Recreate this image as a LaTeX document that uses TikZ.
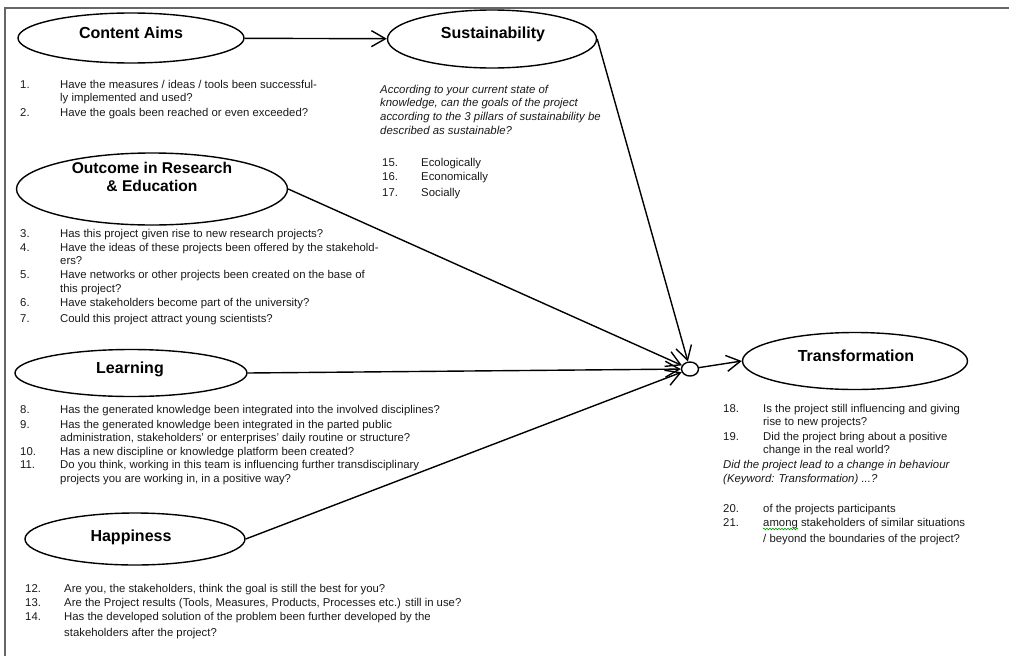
\documentclass[tikz,border=0pt]{standalone}
\usepackage{fontspec}
\setmainfont{Liberation Sans}
\usetikzlibrary{shapes.geometric,arrows.meta,decorations.pathmorphing}
\begin{document}
\begin{tikzpicture}[x=1pt,y=-1pt,
  oval/.style={draw,ellipse,line width=1.4pt,inner sep=0pt},
  lab/.style={font=\fontsize{16}{19}\selectfont\bfseries,inner sep=0pt,align=center},
  q/.style={font=\fontsize{11.35}{13}\selectfont,anchor=base west,inner sep=0pt,text=black!90},
  qi/.style={anchor=base west,inner sep=0pt,text=black!90,font=\fontsize{11.4}{13}\selectfont\itshape},
  conn/.style={line width=1.4pt},
  arr/.style={conn,-{Straight Barb[length=14pt,width=16pt,line width=1.4pt]}},
]
\useasboundingbox (0,0) rectangle (1009,656);
% frame
\draw[gray!80!black,line width=2pt] (5,656) -- (5,7.5) -- (1009,7.5);

% ellipses
\node[oval,minimum width=226pt,minimum height=50pt] (ca) at (131,38) {};
\node[oval,minimum width=209pt,minimum height=58pt] (sus) at (492,39) {};
\node[oval,minimum width=271pt,minimum height=72pt] (out) at (152,189) {};
\node[oval,minimum width=232pt,minimum height=47pt] (lrn) at (131,373) {};
\node[oval,minimum width=220pt,minimum height=52pt] (hap) at (135,539) {};
\node[oval,minimum width=225pt,minimum height=57pt] (tr) at (855,361) {};
\node[draw,ellipse,line width=1.4pt,minimum width=17pt,minimum height=14pt,inner sep=0pt] (jn) at (690,369) {};

% labels
\node[lab] (caL) at (131,33) {Content Aims};
\node[lab] (susL) at (493,34) {Sustainability};
\node[lab,font=\fontsize{15.6}{18.5}\selectfont\bfseries] (outL) at (152,177) {Outcome in Research\\\& Education};
\node[lab] (lrnL) at (130,369) {Learning};
\node[lab] (hapL) at (131,537) {Happiness};
\node[lab] (trL) at (856,356) {Transformation};

% connectors
\draw[arr] (ca) -- (sus);
\draw[arr] (sus.east) -- (jn);
\draw[arr] (out.east) -- (jn);
\draw[arr] (lrn.east) -- (jn);
\draw[arr] (hap.east) -- (jn);
\draw[arr] (jn) -- (tr.west);

% Content Aims questions
\node[q] (n1) at (20,88) {1.};
\node[q] (q1a) at (60,88) {Have the measures / ideas / tools been successful-};
\node[q] (q1b) at (60,101) {ly implemented and used?};
\node[q] (n2) at (20,116) {2.};
\node[q] (q2) at (60,116) {Have the goals been reached or even exceeded?};

% Sustainability
\node[qi] (s1) at (380,93) {According to your current state of};
\node[qi] (s2) at (380,106) {knowledge, can the goals of the project};
\node[qi] (s3) at (380,120) {according to the 3 pillars of sustainability be};
\node[qi] (s4) at (380,134) {described as sustainable?};
\node[q] (n15) at (382,166) {15.};
\node[q] (q15) at (421,166) {Ecologically};
\node[q] (n16) at (382,180) {16.};
\node[q] (q16) at (421,180) {Economically};
\node[q] (n17) at (382,196) {17.};
\node[q] (q17) at (421,196) {Socially};

% Outcome
\node[q] (n3) at (20,237) {3.};
\node[q] (q3) at (60,237) {Has this project given rise to new research projects?};
\node[q] (n4) at (20,251) {4.};
\node[q] (q4a) at (60,251) {Have the ideas of these projects been offered by the stakehold-};
\node[q] (q4b) at (60,264) {ers?};
\node[q] (n5) at (20,278) {5.};
\node[q] (q5a) at (60,278) {Have networks or other projects been created on the base of};
\node[q] (q5b) at (60,292) {this project?};
\node[q] (n6) at (20,306) {6.};
\node[q] (q6) at (60,306) {Have stakeholders become part of the university?};
\node[q] (n7) at (20,322) {7.};
\node[q] (q7) at (60,322) {Could this project attract young scientists?};

% Learning
\node[q] (n8) at (20,413) {8.};
\node[q] (q8) at (60,413) {Has the generated knowledge been integrated into the involved disciplines?};
\node[q] (n9) at (20,428) {9.};
\node[q] (q9a) at (60,428) {Has the generated knowledge been integrated in the parted public};
\node[q] (q9b) at (60,441) {administration, stakeholders' or enterprises' daily routine or structure?};
\node[q] (n10) at (20,455) {10.};
\node[q] (q10) at (60,455) {Has a new discipline or knowledge platform been created?};
\node[q] (n11) at (20,468) {11.};
\node[q] (q11a) at (60,468) {Do you think, working in this team is influencing further transdisciplinary};
\node[q] (q11b) at (60,482) {projects you are working in, in a positive way?};

% Happiness
\node[q] (n12) at (25,592) {12.};
\node[q] (q12) at (64,592) {Are you, the stakeholders, think the goal is still the best for you?};
\node[q] (n13) at (25,606) {13.};
\node[q] (q13) at (64,606) {Are the Project results (Tools, Measures, Products, Processes etc.) still in use?};
\node[q] (n14) at (25,620) {14.};
\node[q] (q14a) at (64,620) {Has the developed solution of the problem been further developed by the};
\node[q] (q14b) at (64,636) {stakeholders after the project?};

% Transformation
\node[q] (n18) at (723,412) {18.};
\node[q] (q18a) at (763,412) {Is the project still influencing and giving};
\node[q] (q18b) at (763,425) {rise to new projects?};
\node[q] (n19) at (723,440) {19.};
\node[q] (q19a) at (763,440) {Did the project bring about a positive};
\node[q] (q19b) at (763,453) {change in the real world?};
\node[qi] (ti1) at (723,468) {Did the project lead to a change in behaviour};
\node[qi] (ti2) at (723,482) {(Keyword: Transformation) ...?};
\node[q] (n20) at (723,512) {20.};
\node[q] (q20) at (763,512) {of the projects participants};
\node[q] (n21) at (723,526) {21.};
\node[q] (q21a) at (763,526) {among stakeholders of similar situations};
\node[q] (q21b) at (763,542) {/ beyond the boundaries of the project?};
\draw[green!60!black,line width=0.6pt,decorate,decoration={snake,amplitude=0.8pt,segment length=3pt}]
  ([yshift=-3pt]q21a.base west) -- ++(35,0);
\end{tikzpicture}
\end{document}
